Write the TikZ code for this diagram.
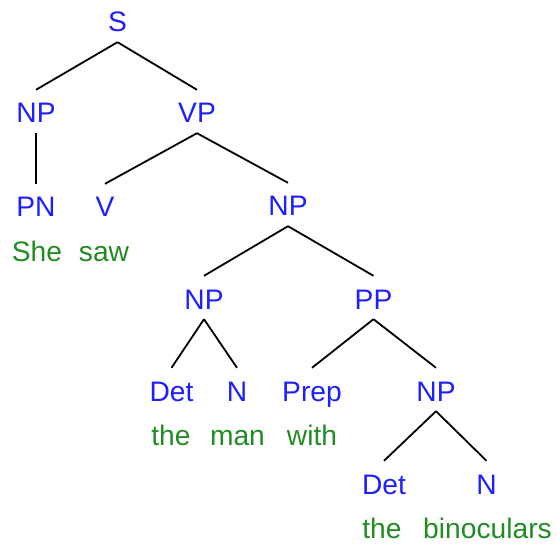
\documentclass[tikz,border=0pt]{standalone}
\usepackage{fontspec}
\setmainfont{Liberation Sans}
\definecolor{tagblue}{RGB}{30,30,255}
\definecolor{wordgreen}{RGB}{34,139,34}
\tikzset{
  tag/.style={anchor=base, text=tagblue, font=\fontsize{28.2bp}{34bp}\selectfont,
    text height=23bp, text depth=0bp, inner ysep=10bp, inner xsep=0bp},
  word/.style={anchor=base, text=wordgreen, font=\fontsize{28.2bp}{34bp}\selectfont,
    inner sep=0bp},
  branch/.style={line width=1.8bp, black}
}
\begin{document}
\begin{tikzpicture}[x=1bp,y=-1bp]
\useasboundingbox (0,0) rectangle (557,547);
\node[tag] (S) at (117.5,32) {S};
\node[tag] (NP1) at (36,123) {NP};
\node[tag] (VP) at (197,123) {VP};
\node[tag] (PN) at (36,217) {PN};
\node[tag] (V) at (105,217) {V};
\node[tag] (NP2) at (288,216) {NP};
\node[tag] (NP3) at (204,309) {NP};
\node[tag] (PP) at (373.5,309) {PP};
\node[tag] (Det1) at (171.5,401) {Det};
\node[tag] (N1) at (237,401) {N};
\node[tag] (Prep) at (312,401) {Prep};
\node[tag] (NP4) at (436,401) {NP};
\node[tag] (Det2) at (384,494) {Det};
\node[tag] (N2) at (486.5,494) {N};
\node[word] (w1) at (37,261) {She};
\node[word] (w2) at (104,261) {saw};
\node[word] (w3) at (171,445) {the};
\node[word] (w4) at (237.5,445) {man};
\node[word] (w5) at (312,445) {with};
\node[word] (w6) at (382,538) {the};
\node[word] (w7) at (487.5,538) {binoculars};
\draw[branch] (S.south) -- (NP1.north);
\draw[branch] (S.south) -- (VP.north);
\draw[branch] (NP1.south) -- (PN.north);
\draw[branch] (VP.south) -- (V.north);
\draw[branch] (VP.south) -- (NP2.north);
\draw[branch] (NP2.south) -- (NP3.north);
\draw[branch] (NP2.south) -- (PP.north);
\draw[branch] (NP3.south) -- (Det1.north);
\draw[branch] (NP3.south) -- (N1.north);
\draw[branch] (PP.south) -- (Prep.north);
\draw[branch] (PP.south) -- (NP4.north);
\draw[branch] (NP4.south) -- (Det2.north);
\draw[branch] (NP4.south) -- (N2.north);
\end{tikzpicture}
\end{document}
